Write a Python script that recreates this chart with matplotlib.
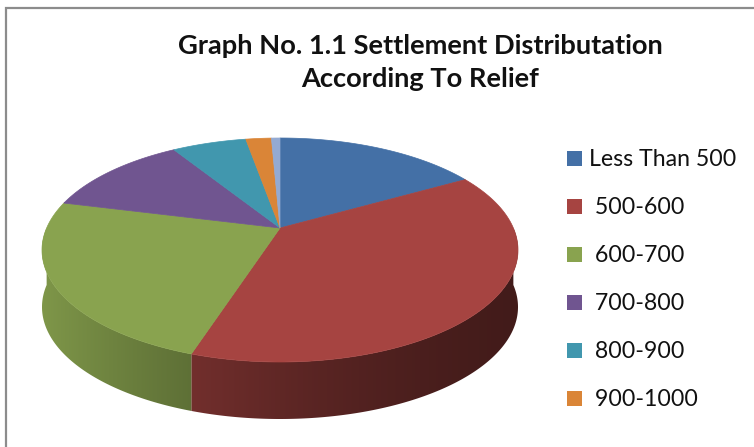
from __future__ import annotations

import matplotlib

matplotlib.use("Agg")

import matplotlib.pyplot as plt
import numpy as np
from matplotlib.colors import to_rgb
from matplotlib.patches import Polygon, Rectangle

TITLE = "Graph No. 1.1 Settlement Distributation\nAccording To Relief"

# slices, clockwise from 12 o'clock (the last one has no legend entry)
CATEGORIES = ["Less Than 500", "500-600", "600-700", "700-800", "800-900", "900-1000", "Above 1000"]
LEGEND_LABELS = ["Less Than 500", " 500-600", " 600-700", " 700-800", " 800-900", " 900-1000"]
SHARES = [16.8, 38.2, 23.9, 12.2, 6.1, 2.1, 0.7]
COLORS = ["#4470A6", "#A64441", "#89A34F", "#705590", "#4197AE", "#DA8537", "#94AAD2"]

WIDTH, HEIGHT = 754, 447

# pie geometry in pixels
CX, CY = 280.0, 250.0        # centre of the top ellipse
RX, RY = 238.0, 112.0        # semi axes of the top ellipse
APEX_SHIFT = 22.0            # perspective: the slice apex sits above the ellipse centre
DEPTH = 57.0


def project(t: np.ndarray, r: float = 1.0) -> tuple[np.ndarray, np.ndarray]:
    """Perspective map of a disc point (r, angle t) onto the screen (pixels)."""
    k = APEX_SHIFT / RY
    s = RX * np.sqrt(1.0 - k * k)
    u = r * np.cos(t)
    v = r * np.sin(t)
    w = 1.0 + k * v
    x = s * u / w
    y = (RY * v + APEX_SHIFT) / w
    return CX + x, CY - y


def side_shade(x: np.ndarray) -> np.ndarray:
    # light from the left, wall gets darker towards the right
    xn = (x - CX) / RX
    return 0.578 - 0.263 * xn + 0.082 * xn ** 2


def draw_pie(ax: plt.Axes) -> None:
    shares = np.array(SHARES, dtype=float)
    bounds = np.concatenate([[0.0], np.cumsum(shares) / shares.sum()])
    angles = np.deg2rad(90.0 - 360.0 * bounds)

    # side wall: only the front half (angles between -180 and 0 deg) is visible
    cols = np.arange(CX - RX - 2, CX + RX + 3, 1.0)
    shade = side_shade(cols)
    for start, end, color in zip(angles[:-1], angles[1:], COLORS):
        lo, hi = max(end, -np.pi), min(start, 0.0)
        if hi <= lo:
            continue
        ts = np.linspace(lo, hi, 200)
        xs, ys = project(ts)
        outline = np.column_stack(
            [np.concatenate([xs, xs[::-1]]), np.concatenate([ys, ys[::-1] + DEPTH])]
        )
        clip = Polygon(outline, closed=True, facecolor="none", edgecolor="none")
        ax.add_patch(clip)
        base = np.array(to_rgb(color))
        row = np.clip(shade[:, None] * base[None, :], 0, 1)[None, :, :]
        img = ax.imshow(
            row,
            extent=(cols[0] - 0.5, cols[-1] + 0.5, CY + RY + DEPTH + 40, CY - 40),
            aspect="auto",
            interpolation="bilinear",
            zorder=1,
        )
        img.set_clip_path(clip)

    # top face
    apex_x, apex_y = project(np.array([0.0]), r=0.0)
    for start, end, color in zip(angles[:-1], angles[1:], COLORS):
        ts = np.linspace(start, end, max(int(abs(end - start) / 0.005), 3))
        xs, ys = project(ts)
        points = np.column_stack(
            [np.concatenate([[apex_x[0]], xs]), np.concatenate([[apex_y[0]], ys])]
        )
        ax.add_patch(
            Polygon(points, closed=True, facecolor=color, edgecolor=color, linewidth=0.5, zorder=2)
        )


def draw_legend(ax: plt.Axes) -> None:
    top, step = 158.0, 48.0
    for i, (label, color) in enumerate(zip(LEGEND_LABELS, COLORS)):
        y = top + i * step
        ax.add_patch(Rectangle((567, y - 7.5), 15, 15, facecolor=color, edgecolor="none", zorder=3))
        ax.text(
            589, y + 1, label, fontsize=16.7, family="Lato",
            va="center", ha="left", color="#111111", zorder=3,
        )


def build_figure() -> plt.Figure:
    fig = plt.figure(figsize=(WIDTH / 100, HEIGHT / 100), dpi=100)
    ax = fig.add_axes([0, 0, 1, 1])

    # chart frame
    ax.add_patch(
        Rectangle((6, 8), WIDTH + 20, HEIGHT + 20, facecolor="white",
                  edgecolor="#8c8c8c", linewidth=1.6, zorder=0)
    )

    ax.text(
        420, 62.5, TITLE, fontsize=19.6, fontweight="bold", family="Lato",
        ha="center", va="center", linespacing=1.42, color="#111111", zorder=3,
    )

    draw_pie(ax)
    draw_legend(ax)

    ax.set_xlim(0, WIDTH)
    ax.set_ylim(HEIGHT, 0)
    ax.axis("off")
    return fig


def main() -> None:
    fig = build_figure()
    fig.savefig("out.png", dpi=100)
    plt.close(fig)


if __name__ == "__main__":
    main()
